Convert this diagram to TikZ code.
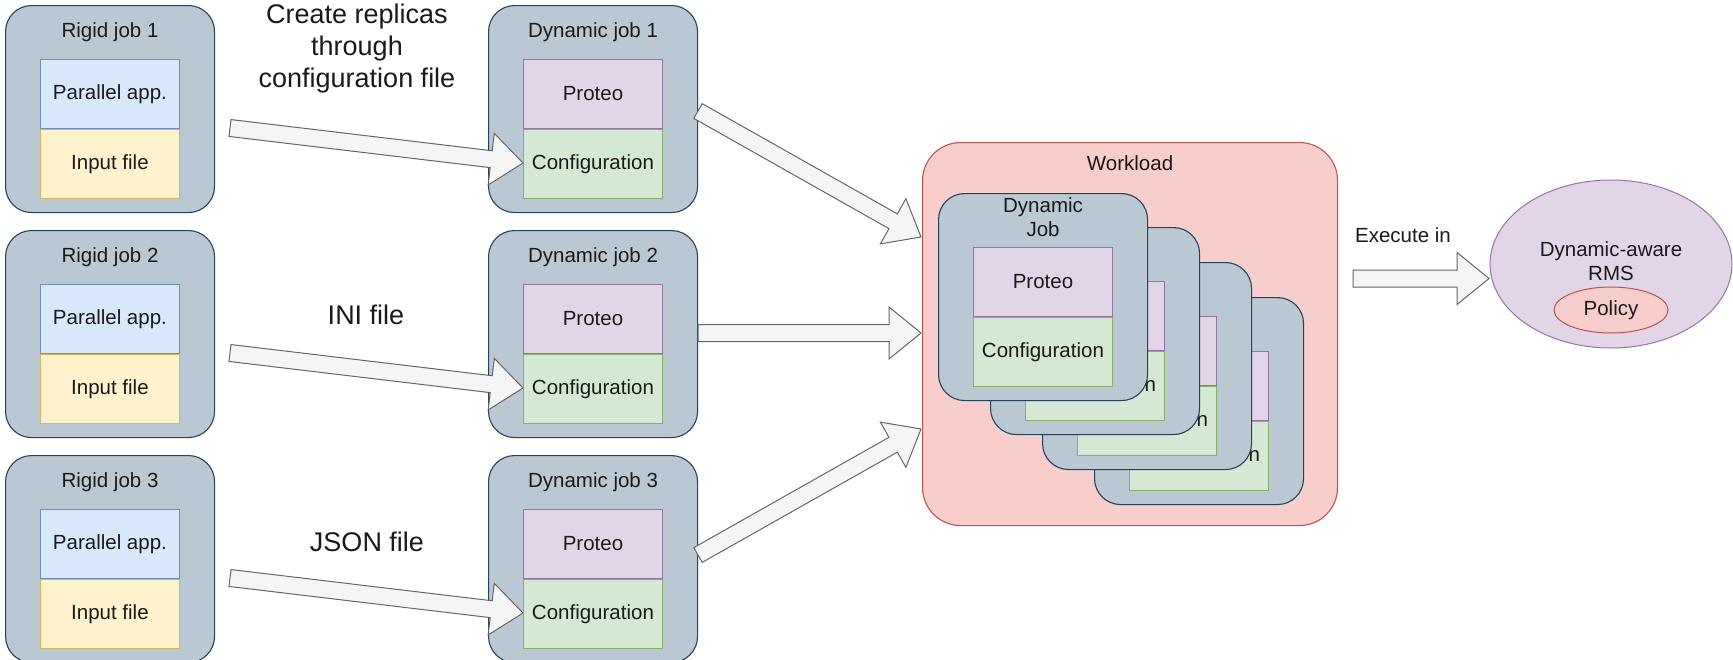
\documentclass[tikz,border=0pt]{standalone}
\usepackage{fontspec}
\setmainfont{Liberation Sans}
\usetikzlibrary{calc,shapes.geometric}
\definecolor{jobfill}{HTML}{BAC8D3}
\definecolor{jobline}{HTML}{23445D}
\definecolor{pafill}{HTML}{DAE8FC}
\definecolor{paline}{HTML}{6C8EBF}
\definecolor{iffill}{HTML}{FFF2CC}
\definecolor{ifline}{HTML}{D6B656}
\definecolor{prfill}{HTML}{E1D5E7}
\definecolor{prline}{HTML}{9673A6}
\definecolor{cffill}{HTML}{D5E8D4}
\definecolor{cfline}{HTML}{82B366}
\definecolor{wlfill}{HTML}{F8CECC}
\definecolor{wlline}{HTML}{B85450}
\definecolor{arfill}{HTML}{F5F5F5}
\definecolor{arline}{HTML}{666666}
\definecolor{txtcol}{HTML}{1A1A1A}
\newcommand{\fsmall}{\fontsize{20.5}{23.5}\selectfont}
\newcommand{\fbig}{\fontsize{27}{32}\selectfont}
\tikzset{
  jobbox/.style={draw=jobline, fill=jobfill, rounded corners=26pt, minimum width=209pt, minimum height=207pt, inner sep=0pt, anchor=north west, line width=1.1pt},
  part/.style={minimum width=139pt, minimum height=69pt, inner sep=0pt, anchor=north west, line width=0.9pt, font=\fsmall, text=txtcol},
  pabox/.style={part, fill=pafill, draw=paline},
  ifbox/.style={part, fill=iffill, draw=ifline},
  prbox/.style={part, fill=prfill, draw=prline},
  cfbox/.style={part, fill=cffill, draw=cfline},
  lbl/.style={font=\fsmall, inner sep=0pt, text=txtcol, align=center},
  biglbl/.style={font=\fbig, inner sep=0pt, text=txtcol, align=center},
  blockarrowstyle/.style={draw=arline, fill=arfill, line width=1pt, line join=miter},
}
\newcommand{\rigidjob}[4]{%
  \node[jobbox] (#1) at (#2,#3) {};
  \node[lbl] (#1t) at ($(#1.north)+(0,27)$) {#4};
  \node[pabox] (#1p) at ($(#1.north west)+(35,54)$) {Parallel app.};
  \node[ifbox, anchor=north] (#1i) at (#1p.south) {Input file};
}
\newcommand{\dynjob}[4]{%
  \node[jobbox] (#1) at (#2,#3) {};
  \node[lbl] (#1t) at ($(#1.north)+(0,27)$) {#4};
  \node[prbox] (#1p) at ($(#1.north west)+(35,54)$) {Proteo};
  \node[cfbox, anchor=north] (#1c) at (#1p.south) {Configuration};
}
\newcommand{\stackjob}[3]{%
  \node[jobbox] (#1) at (#2,#3) {};
  \node[prbox] (#1p) at ($(#1.north west)+(35,54)$) {Proteo};
  \node[cfbox, anchor=north] (#1c) at (#1p.south) {Configuration};
}
\newcommand{\blockarrow}[2]{%
  \path let \p1=($(#2)-(#1)$), \n1={atan2(\y1,\x1)}, \n2={veclen(\x1,\y1)} in
    \pgfextra{\xdef\baang{\n1}\xdef\balen{\n2}};
  \draw[blockarrowstyle, shift={(#1)}, rotate=\baang]
    (0,-8.5) -- (\balen-32,-8.5) -- (\balen-32,-26) -- (\balen,0) -- (\balen-32,26) -- (\balen-32,8.5) -- (0,8.5) -- cycle;
}
\begin{document}
\begin{tikzpicture}[x=1pt,y=-1pt]
\useasboundingbox (0,0) rectangle (1733,659);
% rigid jobs
\rigidjob{r1}{5}{5}{Rigid job 1}
\rigidjob{r2}{5}{230}{Rigid job 2}
\rigidjob{r3}{5}{455}{Rigid job 3}
% dynamic jobs
\dynjob{d1}{488}{5}{Dynamic job 1}
\dynjob{d2}{488}{230}{Dynamic job 2}
\dynjob{d3}{488}{455}{Dynamic job 3}
% labels
\node[biglbl] (lab1) at (357,49) {Create replicas\\through\\configuration file};
\node[biglbl] (lab2) at (366,315) {INI file};
\node[biglbl] (lab3) at (367,542) {JSON file};
% workload
\node[draw=wlline, fill=wlfill, rounded corners=38pt, minimum width=415pt, minimum height=383pt, inner sep=0pt, anchor=north west, line width=1.1pt] (wl) at (922,142) {};
\node[lbl] (wlt) at ($(wl.north)+(0,21)$) {Workload};
\stackjob{s4}{1094}{297}
\stackjob{s3}{1042}{262}
\stackjob{s2}{990}{227}
\stackjob{s1}{938}{193}
\node[lbl] (s1t) at ($(s1.north)+(0,24)$) {Dynamic\\Job};
% RMS
\node[ellipse, draw=prline, fill=prfill, minimum width=242pt, minimum height=168pt, inner sep=0pt, line width=1pt] (rms) at (1611,264) {};
\node[lbl] (rmst) at (1611,261) {Dynamic-aware\\RMS};
\node[ellipse, draw=wlline, fill=wlfill, minimum width=114pt, minimum height=46pt, inner sep=0pt, line width=1pt, font=\fsmall, text=txtcol] (pol) at (1611,310) {Policy};
\node[lbl] (exl) at (1403,235) {Execute in};
% arrow end points
\coordinate (a1s) at (230,128); \coordinate (a1e) at (523,163);
\coordinate (a2s) at (230,353); \coordinate (a2e) at (523,388);
\coordinate (a3s) at (230,578); \coordinate (a3e) at (523,613);
\coordinate (b1s) at (698,111); \coordinate (b1e) at (921,237);
\coordinate (b2s) at (698,333); \coordinate (b2e) at (921,333);
\coordinate (b3s) at (698,555); \coordinate (b3e) at (921,429);
\coordinate (cs) at (1353,278.5); \coordinate (ce) at (1489,278.5);
\blockarrow{a1s}{a1e}
\blockarrow{a2s}{a2e}
\blockarrow{a3s}{a3e}
\blockarrow{b1s}{b1e}
\blockarrow{b2s}{b2e}
\blockarrow{b3s}{b3e}
\blockarrow{cs}{ce}
\end{tikzpicture}
\end{document}
